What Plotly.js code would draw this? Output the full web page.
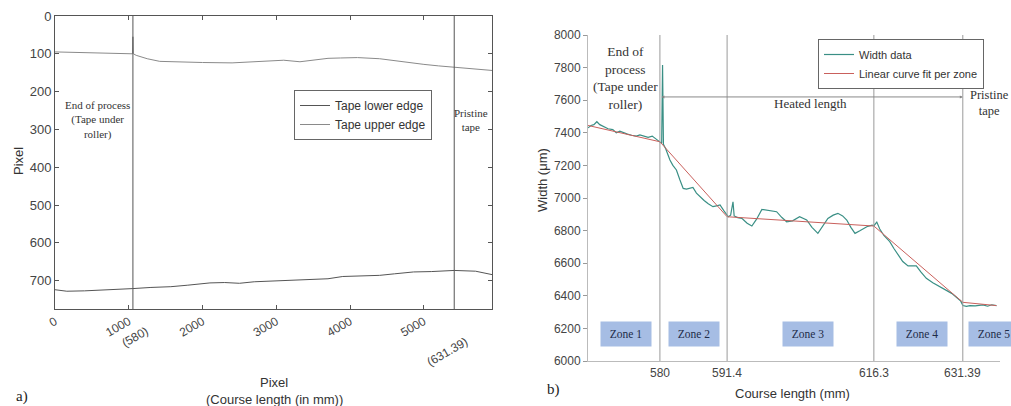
<!DOCTYPE html>
<html>
<head>
<meta charset="utf-8">
<script src="https://cdn.plot.ly/plotly-3.0.1.min.js"></script>
<style>html,body{margin:0;padding:0;background:#fff;}#chart{width:1011px;height:406px;}</style>
</head>
<body>
<div id="chart"></div>
<script>
// ---------- Panel a data ----------
const upperEdgeX = [0, 200, 500, 800, 1000, 1050, 1056, 1062, 1100, 1250, 1420, 1700, 2000, 2400, 2700, 3000, 3100, 3320, 3550, 3700, 3870, 4100, 4400, 4700, 5000, 5200, 5411, 5650, 5923];
const upperEdgeY = [95, 96, 97, 98, 100, 100, 55, 100, 104, 113, 120, 122, 123, 124, 121, 118, 117, 121, 115, 112, 111, 110, 113, 121, 128, 132, 135, 139, 144];
const lowerEdgeX = [0, 160, 400, 700, 1056, 1300, 1570, 1800, 2000, 2100, 2300, 2500, 2700, 3000, 3300, 3700, 3900, 4100, 4400, 4600, 4860, 5100, 5411, 5700, 5923];
const lowerEdgeY = [724, 728, 727, 725, 721, 718, 716, 712, 708, 706, 705, 707, 703, 700, 698, 695, 689, 688, 686, 682, 677, 676, 673, 675, 684];
const markerPixelsA = [1056, 5411];
const markerLabelsA = ["(580)", "(631.39)"];
const xTicksA = [0, 1000, 2000, 3000, 4000, 5000];
const yTicksA = [0, 100, 200, 300, 400, 500, 600, 700];

// ---------- Panel b data ----------
const widthMM = [567.8, 568.3, 568.8, 569.3, 569.8, 570.5, 571.2, 572.0, 572.6, 573.2, 573.8, 574.5, 575.2, 576.0, 576.6, 577.3, 578.0, 578.7, 579.3, 580.0, 580.3, 580.45, 580.6, 581.0, 581.7, 582.2, 582.8, 583.4, 583.95, 584.5, 585.0, 585.6, 586.2, 586.8, 587.5, 588.2, 589.0, 589.6, 590.2, 590.9, 591.6, 592.0, 592.4, 592.6, 593.2, 593.9, 594.8, 595.6, 596.4, 597.3, 598.2, 599.0, 599.8, 600.7, 601.5, 602.5, 603.7, 604.9, 605.8, 606.8, 607.7, 608.5, 609.4, 610.2, 611.0, 611.7, 612.4, 613.1, 614.0, 615.1, 616.0, 616.3, 616.8, 617.3, 618.0, 619.0, 619.7, 620.4, 621.2, 622.1, 622.8, 623.5, 624.3, 625.2, 626.3, 627.5, 628.5, 629.5, 630.5, 631.0, 631.4, 632.0, 632.6, 633.5, 634.8, 635.6, 636.3, 637.1];
const widthUM = [7430, 7445, 7450, 7468, 7450, 7440, 7425, 7420, 7400, 7410, 7400, 7392, 7385, 7380, 7387, 7378, 7372, 7380, 7362, 7345, 7335, 7816, 7330, 7300, 7233, 7200, 7172, 7110, 7059, 7055, 7058, 7065, 7030, 7008, 6985, 6965, 6947, 6952, 6957, 6920, 6885, 6895, 6977, 6890, 6880, 6875, 6845, 6828, 6870, 6930, 6925, 6922, 6916, 6880, 6854, 6860, 6885, 6865, 6820, 6783, 6830, 6875, 6895, 6906, 6890, 6865, 6820, 6783, 6800, 6824, 6834, 6830, 6852, 6810, 6770, 6732, 6690, 6650, 6610, 6583, 6585, 6583, 6545, 6507, 6480, 6456, 6435, 6415, 6385, 6370, 6340, 6335, 6340, 6338, 6344, 6336, 6345, 6340];
const fitMM = [567.8, 580, 591.4, 616.3, 631.39, 637.1];
const fitUM = [7445, 7345, 6885, 6828, 6360, 6340];
const zoneBounds = [580, 591.4, 616.3, 631.39];
const zoneBoundLabels = ["580", "591.4", "616.3", "631.39"];
const zoneNames = ["Zone 1", "Zone 2", "Zone 3", "Zone 4", "Zone 5"];
const zoneLabelMM = [574.2, 585.8, 605.1, 624.4, 636.6];
const heatedArrowUM = 7620;
const yTicksB = [6000, 6200, 6400, 6600, 6800, 7000, 7200, 7400, 7600, 7800, 8000];

// ---------- helpers ----------
const W = 1011, H = 406;
const px = x => x / W;
const py = y => 1 - y / H;
const SANS = "Liberation Sans, Arial, sans-serif";
const SERIF = "Liberation Serif, Times New Roman, serif";

const traces = [
  {x: lowerEdgeX, y: lowerEdgeY, name: "Tape lower edge", type: "scatter", mode: "lines",
   line: {color: "#555", width: 1}, xaxis: "x", yaxis: "y", legend: "legend"},
  {x: upperEdgeX, y: upperEdgeY, name: "Tape upper edge", type: "scatter", mode: "lines",
   line: {color: "#8a8a8a", width: 1}, xaxis: "x", yaxis: "y", legend: "legend"},
  {x: widthMM, y: widthUM, name: "Width data", type: "scatter", mode: "lines",
   line: {color: "#3a8f85", width: 1.2}, xaxis: "x2", yaxis: "y2", legend: "legend2"},
  {x: fitMM, y: fitUM, name: "Linear curve fit per zone", type: "scatter", mode: "lines",
   line: {color: "#c9605c", width: 1}, xaxis: "x2", yaxis: "y2", legend: "legend2"}
];

const shapes = [];
markerPixelsA.forEach(v => shapes.push({type: "line", xref: "x", yref: "y", x0: v, x1: v, y0: 0, y1: 775,
  line: {color: "#555", width: 1}}));
zoneBounds.forEach(v => shapes.push({type: "line", xref: "x2", yref: "y2", x0: v, x1: v, y0: 6000, y1: 8000,
  line: {color: "#9a9a9a", width: 1}}));

const annotations = [];
function txt(x, y, text, font, extra) {
  annotations.push(Object.assign({xref: "paper", yref: "paper", x: px(x), y: py(y), text: text,
    showarrow: false, xanchor: "center", yanchor: "middle", align: "center", font: font}, extra || {}));
}
// panel a texts
txt(97, 120, "End of process<br>(Tape under<br>roller)", {family: SERIF, size: 11, color: "#333"});
txt(471, 120, "Pristine<br>tape", {family: SERIF, size: 11, color: "#333"});
txt(135, 337, markerLabelsA[0], {family: SANS, size: 12, color: "#444"}, {textangle: -30});
txt(447, 352, markerLabelsA[1], {family: SANS, size: 12, color: "#444"}, {textangle: -30});
txt(274, 382, "Pixel", {family: SANS, size: 13, color: "#333"});
txt(274, 399, "(Course length (in mm))", {family: SANS, size: 13, color: "#333"});
txt(18, 161, "Pixel", {family: SANS, size: 13, color: "#333"}, {textangle: -90});
txt(22, 396, "a)", {family: SERIF, size: 15, color: "#222"});
// panel b texts
txt(625, 78, "End of<br>process<br>(Tape under<br>roller)", {family: SERIF, size: 13.5, color: "#333"});
txt(810, 103, "Heated length", {family: SERIF, size: 13, color: "#333"});
txt(989, 103, "Pristine<br>tape", {family: SERIF, size: 12.5, color: "#333"});
txt(792, 393, "Course length (mm)", {family: SANS, size: 13, color: "#333"});
txt(542, 180, "Width (μm)", {family: SANS, size: 13, color: "#333"}, {textangle: -90});
txt(553, 389, "b)", {family: SERIF, size: 15, color: "#222"});

annotations.push({xref: "x2", yref: "y2", x: zoneBounds[3], y: heatedArrowUM, ax: zoneBounds[0], ay: heatedArrowUM,
  axref: "x2", ayref: "y2", text: "", showarrow: true, arrowside: "end+start", arrowhead: 2, arrowsize: 0.6,
  arrowwidth: 1, arrowcolor: "#888"});
zoneNames.forEach((z, i) => annotations.push({xref: "x2", yref: "paper", x: zoneLabelMM[i], y: py(334), text: z,
  showarrow: false, xanchor: "center", yanchor: "middle", width: 48, height: 22, bgcolor: "#a6bde4",
  font: {family: SERIF, size: 11.5, color: "#1e2b48"}}));
zoneBounds.forEach((v, i) => annotations.push({xref: "x2", yref: "paper", x: v, y: py(373), xanchor: "center",
  yanchor: "middle", text: zoneBoundLabels[i], showarrow: false, font: {family: SANS, size: 12, color: "#444"}}));

const layout = {
  width: W, height: H,
  margin: {l: 0, r: 0, t: 0, b: 0},
  paper_bgcolor: "#fff", plot_bgcolor: "#fff",
  showlegend: true,
  font: {family: SANS, color: "#333"},
  xaxis: {domain: [px(55), px(492)], range: [0, 5923], tickvals: xTicksA, ticktext: xTicksA.map(String),
    tickangle: -30, ticks: "inside", ticklen: 4, tickcolor: "#555", showline: true, linecolor: "#555",
    mirror: "ticks", showgrid: false, zeroline: false, tickfont: {family: SANS, size: 12, color: "#444"}, anchor: "y"},
  yaxis: {domain: [py(309), py(16)], range: [775, 0], tickvals: yTicksA, ticks: "inside", ticklen: 4,
    tickcolor: "#555", showline: true, linecolor: "#555", mirror: "ticks", showgrid: false, zeroline: false,
    tickfont: {family: SANS, size: 13, color: "#444"}, anchor: "x"},
  xaxis2: {domain: [px(588), px(1000)], range: [567.8, 637.7], showticklabels: false, ticks: "",
    showline: true, linecolor: "#bbb", showgrid: false, zeroline: false, anchor: "y2"},
  yaxis2: {domain: [py(361), py(35)], range: [6000, 8000], tickvals: yTicksB, ticks: "outside", ticklen: 4,
    tickcolor: "#999", showline: true, linecolor: "#bbb", showgrid: false, zeroline: false,
    tickfont: {family: SANS, size: 12, color: "#444"}, anchor: "x2"},
  legend: {x: px(294), y: py(90), xanchor: "left", yanchor: "top", bgcolor: "#fff", bordercolor: "#666",
    borderwidth: 1, font: {family: SANS, size: 12, color: "#333"}},
  legend2: {x: px(818), y: py(39), xanchor: "left", yanchor: "top", bgcolor: "#fff", bordercolor: "#666",
    borderwidth: 1, font: {family: SANS, size: 11, color: "#333"}},
  shapes: shapes,
  annotations: annotations
};

Plotly.newPlot("chart", traces, layout, {displayModeBar: false, staticPlot: true});
</script>
</body>
</html>
